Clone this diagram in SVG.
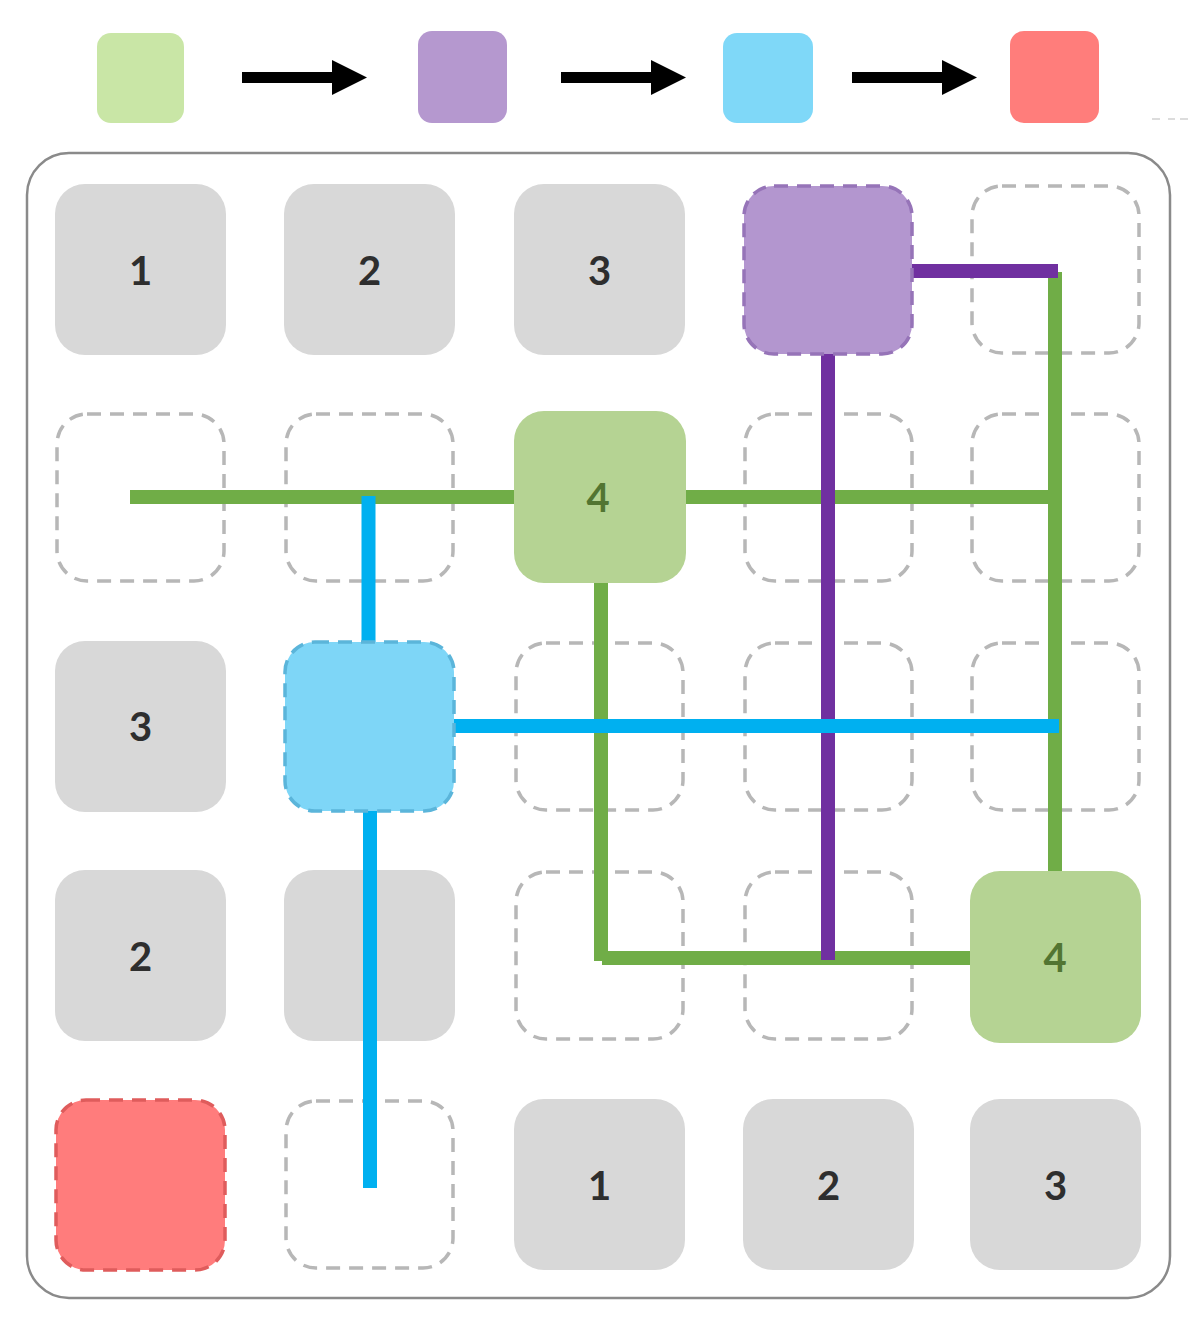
<svg xmlns="http://www.w3.org/2000/svg" width="1200" height="1332" viewBox="0 0 1200 1332">
<defs>
<style>
.frame{fill:#fff;stroke:#8a8a8a;stroke-width:2.5}
.gray{fill:#d8d8d8}
.empty{fill:none;stroke:#b7b7b7;stroke-width:3.5;stroke-dasharray:14 9}
.gnode{fill:#b5d393}
.pnode{fill:#b396cf;stroke:#9674b8;stroke-width:3.5;stroke-dasharray:14 9}
.bnode{fill:#7ed6f7;stroke:#5bb5da;stroke-width:3.5;stroke-dasharray:14 9}
.rnode{fill:#ff7c7c;stroke:#df5c5c;stroke-width:3.5;stroke-dasharray:14 9}
.num{font-family:Lato,"Liberation Sans",sans-serif;font-weight:bold;font-size:40px;text-anchor:middle;fill:#2e2e2e}
.gnum{fill:#527532}
.lg{stroke:#70ad47;stroke-width:14;fill:none}
.lp{stroke:#7030a0;stroke-width:14;fill:none}
.lb{stroke:#00b0f0;stroke-width:14;fill:none}
.arrow{stroke:#000;stroke-width:11}
</style>
</defs>
<rect width="1200" height="1332" fill="#fff"/>

<g id="legend">
<rect x="97" y="33" width="87" height="90" rx="14" fill="#c9e6a6"/>
<rect x="418" y="31" width="89" height="92" rx="14" fill="#b598cf"/>
<rect x="723" y="33" width="90" height="90" rx="14" fill="#7fd8f8"/>
<rect x="1010" y="31" width="89" height="92" rx="14" fill="#ff7d7b"/>
<g id="legend-arrows">
<line class="arrow" x1="242" y1="77.5" x2="334" y2="77.5"/><polygon points="332,60 367,77.5 332,95" fill="#000"/>
<line class="arrow" x1="561" y1="77.5" x2="653" y2="77.5"/><polygon points="651,60 686,77.5 651,95" fill="#000"/>
<line class="arrow" x1="852" y1="77.5" x2="944" y2="77.5"/><polygon points="942,60 977,77.5 942,95" fill="#000"/>
</g>
<line x1="1152" y1="119" x2="1193" y2="119" stroke="#dcdcdc" stroke-width="2" stroke-dasharray="8 8 7 5"/>
</g>

<rect class="frame" x="27" y="153" width="1143" height="1145" rx="42"/>

<g id="empty-cells">
<rect id="c1-5" class="empty" x="972" y="186" width="167" height="167" rx="30"/>
<rect id="c2-1" class="empty" x="57" y="414" width="167" height="167" rx="30"/>
<rect id="c2-2" class="empty" x="286" y="414" width="167" height="167" rx="30"/>
<rect id="c2-4" class="empty" x="745" y="414" width="167" height="167" rx="30"/>
<rect id="c2-5" class="empty" x="972" y="414" width="167" height="167" rx="30"/>
<rect id="c3-3" class="empty" x="516" y="643" width="167" height="167" rx="30"/>
<rect id="c3-4" class="empty" x="745" y="643" width="167" height="167" rx="30"/>
<rect id="c3-5" class="empty" x="972" y="643" width="167" height="167" rx="30"/>
<rect id="c4-3" class="empty" x="516" y="872" width="167" height="167" rx="30"/>
<rect id="c4-4" class="empty" x="745" y="872" width="167" height="167" rx="30"/>
<rect id="c5-2" class="empty" x="286" y="1101" width="167" height="167" rx="30"/>
</g>

<g id="n4-2"><rect class="gray" x="284" y="870" width="171" height="171" rx="30"/></g>

<g id="connectors">
<line class="lg" x1="130" y1="497" x2="1062" y2="497"/>
<line class="lg" x1="1055" y1="272" x2="1055" y2="872"/>
<line class="lg" x1="601" y1="580" x2="601" y2="961"/>
<line class="lg" x1="602" y1="958" x2="972" y2="958"/>
<line class="lp" x1="911" y1="271" x2="1058" y2="271"/>
<line class="lp" x1="828" y1="353" x2="828" y2="960"/>
<line class="lb" x1="368.5" y1="496" x2="368.5" y2="643"/>
<line class="lb" x1="453" y1="726" x2="1059" y2="726"/>
<line class="lb" x1="370" y1="809" x2="370" y2="1188"/>
</g>

<g id="n1-1"><rect class="gray" x="55" y="184" width="171" height="171" rx="30"/><text class="num" x="140.5" y="285">1</text></g>
<g id="n1-2"><rect class="gray" x="284" y="184" width="171" height="171" rx="30"/><text class="num" x="369.5" y="285">2</text></g>
<g id="n1-3"><rect class="gray" x="514" y="184" width="171" height="171" rx="30"/><text class="num" x="599.5" y="285">3</text></g>
<g id="n1-4"><rect class="pnode" x="744" y="186" width="168" height="168" rx="30"/></g>
<g id="n2-3"><rect class="gnode" x="514" y="411" width="172" height="172" rx="30"/><text class="num gnum" x="598" y="512">4</text></g>
<g id="n3-1"><rect class="gray" x="55" y="641" width="171" height="171" rx="30"/><text class="num" x="140.5" y="741">3</text></g>
<g id="n3-2"><rect class="bnode" x="285" y="642" width="169" height="169" rx="30"/></g>
<g id="n4-1"><rect class="gray" x="55" y="870" width="171" height="171" rx="30"/><text class="num" x="140.5" y="971">2</text></g>
<g id="n4-5"><rect class="gnode" x="970" y="871" width="171" height="172" rx="30"/><text class="num gnum" x="1055" y="972">4</text></g>
<g id="n5-1"><rect class="rnode" x="56" y="1100" width="169" height="170" rx="30"/></g>
<g id="n5-3"><rect class="gray" x="514" y="1099" width="171" height="171" rx="30"/><text class="num" x="599.5" y="1200">1</text></g>
<g id="n5-4"><rect class="gray" x="743" y="1099" width="171" height="171" rx="30"/><text class="num" x="828.5" y="1200">2</text></g>
<g id="n5-5"><rect class="gray" x="970" y="1099" width="171" height="171" rx="30"/><text class="num" x="1055.5" y="1200">3</text></g>
</svg>
